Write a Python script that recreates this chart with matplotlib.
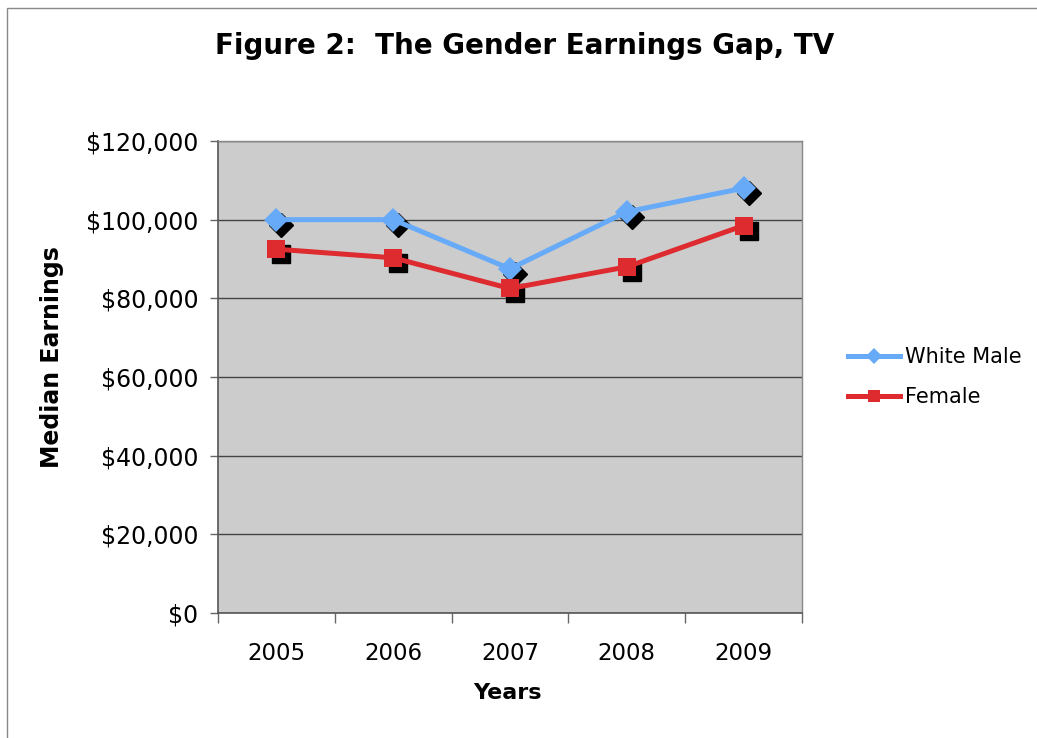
import matplotlib
matplotlib.use("Agg")
import matplotlib.pyplot as plt
import matplotlib.transforms as mtransforms
from matplotlib.patches import Rectangle
from matplotlib.ticker import FuncFormatter, FixedLocator

years = ["2005", "2006", "2007", "2008", "2009"]
white_male = [100000, 100000, 87500, 102000, 108000]
female = [92500, 90300, 82500, 88000, 98500]
yticks = [0, 20000, 40000, 60000, 80000, 100000, 120000]

W, H = 1037, 738
fig = plt.figure(figsize=(W / 100, H / 100), dpi=100)
fig.patch.set_facecolor("white")

# outer chart border
fig.patches.append(Rectangle((7 / W, -0.05), 1.2, 1 - 8 / H + 0.05, transform=fig.transFigure,
                             fill=False, edgecolor="#888888", linewidth=1.0))

left, right, top, bottom = 218 / W, 802 / W, 1 - 141 / H, 1 - 613 / H
ax = fig.add_axes([left, bottom, right - left, top - bottom])
ax.set_facecolor("#CCCCCC")

x = list(range(len(years)))
blue = "#66AAF8"
red = "#DD2B30"

shadow = mtransforms.ScaledTranslation(5 / 100, -5 / 100, fig.dpi_scale_trans)
st = ax.transData + shadow
ax.plot(x, white_male, linestyle="none", marker="D", markersize=12, color="black",
        transform=st, zorder=2)
ax.plot(x, female, linestyle="none", marker="s", markersize=13, color="black",
        transform=st, zorder=2)

ax.plot(x, white_male, color=blue, linewidth=3.6, marker="D", markersize=12,
        markeredgewidth=0, label="White Male", zorder=3)
ax.plot(x, female, color=red, linewidth=3.6, marker="s", markersize=13,
        markeredgewidth=0, label="Female", zorder=3)

ax.set_xlim(-0.5, len(years) - 0.5)
ax.set_ylim(0, 120000)
ax.set_yticks(yticks)
ax.yaxis.set_major_formatter(FuncFormatter(lambda v, p: "${:,.0f}".format(v)))
ax.grid(axis="y", color="#444444", linewidth=1.0, zorder=1)
ax.set_axisbelow(True)

ax.set_xticks(x)
ax.set_xticklabels(years)
ax.xaxis.set_minor_locator(FixedLocator([i - 0.5 for i in range(len(years) + 1)]))
ax.tick_params(axis="x", which="major", length=0, pad=21, labelsize=16.5)
ax.tick_params(axis="x", which="minor", length=7, color="#666666", width=1)
ax.tick_params(axis="y", length=6, color="#666666", width=1, labelsize=17, pad=8)

for s in ["top", "right"]:
    ax.spines[s].set_color("#888888")
    ax.spines[s].set_linewidth(1.0)
for s in ["left", "bottom"]:
    ax.spines[s].set_color("#555555")
    ax.spines[s].set_linewidth(1.2)

ax.set_xlabel("Years", fontsize=16, fontweight="bold")
ax.xaxis.set_label_coords((507 - 218) / (802 - 218), -(693 - 613) / (613 - 141))
ax.xaxis.label.set_va("center")
ax.set_ylabel("Median Earnings", fontsize=17, fontweight="bold")
ax.yaxis.set_label_coords(-(218 - 52) / (802 - 218), (613 - 357) / (613 - 141))
ax.yaxis.label.set_va("center")

fig.text(525 / W, 1 - 46 / H, "Figure 2:  The Gender Earnings Gap, TV", ha="center", va="center",
         fontsize=20, fontweight="bold")

leg = ax.legend(loc="center left", bbox_to_anchor=(840 / W, 1 - 377 / H), bbox_transform=fig.transFigure,
                frameon=False, fontsize=15, handlelength=2.5, handletextpad=0.2, labelspacing=0.95,
                borderaxespad=0)
for h in leg.legend_handles:
    h.set_markersize(8)

fig.savefig("out.png", dpi=100)
